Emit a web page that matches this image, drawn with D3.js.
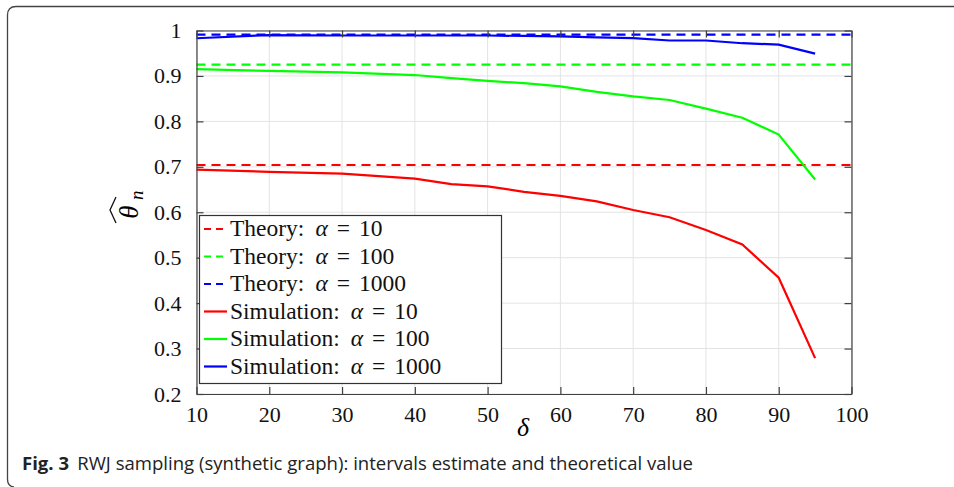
<!DOCTYPE html>
<html><head><meta charset="utf-8">
<script src="https://cdn.jsdelivr.net/npm/d3@7"></script>
<style>body{margin:0;background:#fff}svg{display:block}</style>
</head><body>
<script>
const delta = [10,20,30,40,45,50,55,60,65,70,75,80,85,90,95];
const sim10   = [0.694,0.689,0.685,0.674,0.662,0.657,0.645,0.636,0.624,0.605,0.589,0.561,0.529,0.456,0.279];
const sim100  = [0.915,0.911,0.908,0.902,0.895,0.889,0.884,0.877,0.865,0.855,0.847,0.828,0.808,0.771,0.672];
const sim1000 = [0.983,0.990,0.989,0.989,0.989,0.989,0.988,0.987,0.985,0.983,0.978,0.978,0.972,0.969,0.949];
const theory = [0.704, 0.925, 0.991];
const alphas = ["10","100","1000"];
const xTicks = [10,20,30,40,50,60,70,80,90,100];
const yTicks = [0.2,0.3,0.4,0.5,0.6,0.7,0.8,0.9,1];
const colors = ["#ff0000","#00ff00","#0000ff"];

const W=954,H=487;
const svg=d3.select("body").append("svg").attr("width",W).attr("height",H);
const x=d3.scaleLinear().domain([10,100]).range([196.5,851.5]);
const y=d3.scaleLinear().domain([0.2,1]).range([394,30.5]);
const serif="'Liberation Serif','DejaVu Serif',serif";

// figure border
svg.append("path").attr("d","M954,6.5 H16 Q7.5,6.5 7.5,15 V479 Q7.5,486.5 14,487")
  .attr("fill","none").attr("stroke","#444").attr("stroke-width",1.3);

// grid
const g=svg.append("g");
g.selectAll(".gx").data(xTicks).join("line").attr("x1",d=>x(d)).attr("x2",d=>x(d))
  .attr("y1",y(1)).attr("y2",y(0.2)).attr("stroke","#e3e3e3").attr("stroke-width",1);
g.selectAll(".gy").data(yTicks).join("line").attr("y1",d=>y(d)).attr("y2",d=>y(d))
  .attr("x1",x(10)).attr("x2",x(100)).attr("stroke","#e3e3e3").attr("stroke-width",1);

// theory lines
theory.forEach((v,i)=>{
  svg.append("line").attr("x1",x(10)).attr("x2",x(100)).attr("y1",y(v)).attr("y2",y(v))
    .attr("stroke",colors[i]).attr("stroke-width",2.2).attr("stroke-dasharray","9,6");
});
// sim lines
const line=d3.line().x((d,i)=>x(delta[i])).y(d=>y(d));
[sim10,sim100,sim1000].forEach((s,i)=>{
  svg.append("path").attr("d",line(s)).attr("fill","none").attr("stroke",colors[i]).attr("stroke-width",2.2);
});

// axes (box with inside ticks)
const tl=7;
const axB=svg.append("g").attr("transform",`translate(0,${y(0.2)})`).call(d3.axisBottom(x).tickValues(xTicks).tickSizeInner(-tl).tickSizeOuter(0).tickPadding(9));
const axT=svg.append("g").attr("transform",`translate(0,${y(1)})`).call(d3.axisTop(x).tickValues(xTicks).tickSizeInner(-tl).tickSizeOuter(0).tickFormat(""));
const axL=svg.append("g").attr("transform",`translate(${x(10)},0)`).call(d3.axisLeft(y).tickValues(yTicks).tickSizeInner(-tl).tickSizeOuter(0).tickPadding(15).tickFormat(d=>d===1?"1":d3.format(".1f")(d)));
const axR=svg.append("g").attr("transform",`translate(${x(100)},0)`).call(d3.axisRight(y).tickValues(yTicks).tickSizeInner(-tl).tickSizeOuter(0).tickFormat(""));
[axB,axT,axL,axR].forEach(a=>{
  a.selectAll("path,line").attr("stroke","#404040").attr("stroke-width",1.2);
  a.selectAll("text").attr("font-family",serif).attr("font-size",22).attr("fill","#111");
});
axB.selectAll("text").attr("dy","0.85em");

// axis labels
svg.append("text").attr("x",523).attr("y",436).attr("text-anchor","middle")
  .attr("font-family",serif).attr("font-style","italic").attr("font-size",26).text("δ");
const yl=svg.append("g").attr("transform","translate(138,212) rotate(-90)");
yl.append("text").attr("x",0).attr("y",0).attr("text-anchor","middle")
  .attr("font-family",serif).attr("font-style","italic").attr("font-size",27).text("θ");
yl.append("text").attr("x",12).attr("y",5).attr("font-family",serif).attr("font-style","italic").attr("font-size",19).text("n");
yl.append("path").attr("d","M-11,-22 L2,-28 L15,-22").attr("fill","none").attr("stroke","#111").attr("stroke-width",1.3);

// legend
const lg=svg.append("g");
lg.append("rect").attr("x",199.5).attr("y",215.5).attr("width",302).attr("height",168)
  .attr("fill","#fff").attr("stroke","#333").attr("stroke-width",1.2);
const items=[];
alphas.forEach((a,i)=>items.push({lab:"Theory:",a,c:colors[i],dash:true}));
alphas.forEach((a,i)=>items.push({lab:"Simulation:",a,c:colors[i],dash:false}));
items.forEach((it,i)=>{
  const cy=229+27.5*i;
  lg.append("line").attr("x1",204).attr("x2",227).attr("y1",cy).attr("y2",cy)
    .attr("stroke",it.c).attr("stroke-width",2.2).attr("stroke-dasharray",it.dash?"7,5":null);
  const t=lg.append("text").attr("x",230).attr("y",cy+7).attr("font-family",serif).attr("font-size",23.5).attr("fill","#111");
  t.append("tspan").text(it.lab);
  t.append("tspan").attr("dx",11).attr("font-style","italic").text("α");
  t.append("tspan").attr("dx",9).text("=");
  t.append("tspan").attr("dx",9).text(it.a);
});

// caption
const cap=svg.append("text").attr("x",22).attr("y",470).attr("font-family","'Open Sans','Noto Sans',sans-serif").attr("font-size",18).attr("fill","#222");
cap.append("tspan").attr("font-weight","bold").text("Fig. 3");
cap.append("tspan").attr("dx",8).text("RWJ sampling (synthetic graph): intervals estimate and theoretical value");
cap.attr("textLength",671).attr("lengthAdjust","spacingAndGlyphs");
</script>
</body></html>
